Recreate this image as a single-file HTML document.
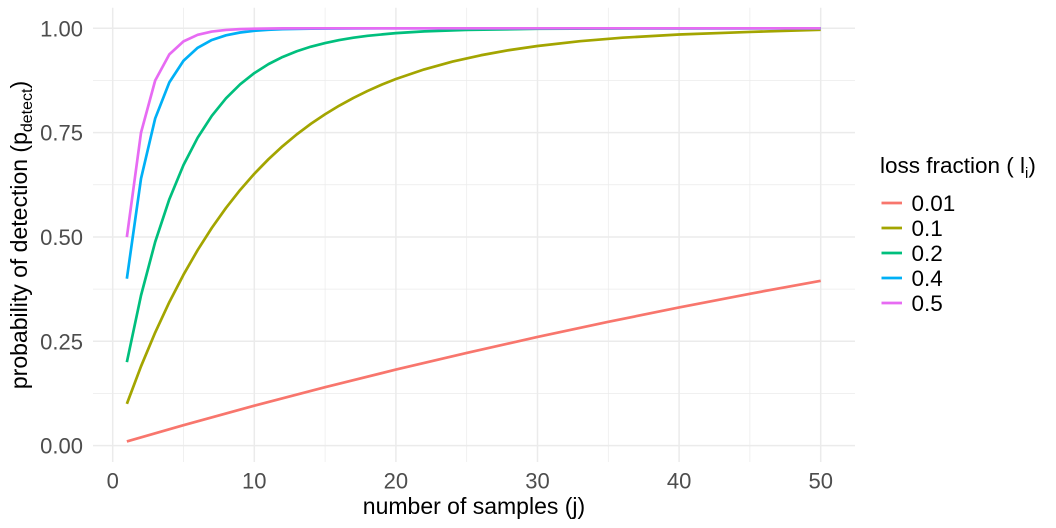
<!DOCTYPE html>
<html><head><meta charset="utf-8"><style>
html,body{margin:0;padding:0;background:#fff;}
svg{display:block;}
text{font-family:"Liberation Sans",Arial,sans-serif;}
</style></head><body>
<svg width="1056" height="528" viewBox="0 0 1056 528" xmlns="http://www.w3.org/2000/svg">
<rect width="1056" height="528" fill="#fff"/>
<!-- minor grid -->
<g stroke="#EBEBEB" stroke-width="0.75" fill="none">
<line x1="93" x2="855" y1="393.44" y2="393.44"/>
<line x1="93" x2="855" y1="289.11" y2="289.11"/>
<line x1="93" x2="855" y1="184.79" y2="184.79"/>
<line x1="93" x2="855" y1="80.46" y2="80.46"/>
<line y1="7.7" y2="462" x1="183.5" x2="183.5"/>
<line y1="7.7" y2="462" x1="325.1" x2="325.1"/>
<line y1="7.7" y2="462" x1="466.7" x2="466.7"/>
<line y1="7.7" y2="462" x1="608.3" x2="608.3"/>
<line y1="7.7" y2="462" x1="749.9" x2="749.9"/>
</g>
<!-- major grid -->
<g stroke="#EBEBEB" stroke-width="1.5" fill="none">
<line x1="93" x2="855" y1="445.6" y2="445.6"/>
<line x1="93" x2="855" y1="341.28" y2="341.28"/>
<line x1="93" x2="855" y1="236.95" y2="236.95"/>
<line x1="93" x2="855" y1="132.63" y2="132.63"/>
<line x1="93" x2="855" y1="28.3" y2="28.3"/>
<line y1="7.7" y2="462" x1="112.7" x2="112.7"/>
<line y1="7.7" y2="462" x1="254.3" x2="254.3"/>
<line y1="7.7" y2="462" x1="395.9" x2="395.9"/>
<line y1="7.7" y2="462" x1="537.5" x2="537.5"/>
<line y1="7.7" y2="462" x1="679.1" x2="679.1"/>
<line y1="7.7" y2="462" x1="820.7" x2="820.7"/>
</g>
<!-- series -->
<g fill="none" stroke-width="2.7" stroke-linejoin="round" stroke-linecap="butt">
<polyline stroke="#F8766D" points="126.86,441.43 183.5,425.15 254.3,405.70 325.1,387.20 395.9,369.61 466.7,352.88 537.5,336.98 608.3,321.85 679.1,307.46 749.9,293.78 820.7,280.77"/>
<polyline stroke="#A3A500" points="126.86,403.87 141.02,366.31 155.18,332.51 169.34,302.09 183.5,274.71 197.66,250.07 211.82,227.89 225.98,207.94 240.14,189.97 254.3,173.80 268.46,159.25 282.62,146.16 296.78,134.38 310.94,123.76 325.1,114.22 339.26,105.63 353.42,97.90 367.58,90.93 381.74,84.67 395.9,79.03 424.22,69.39 452.54,61.59 480.86,55.26 509.18,50.14 537.5,45.99 579.98,41.19 622.46,37.70 679.1,34.47 749.9,31.94 820.7,29.75"/>
<polyline stroke="#00BF7D" points="126.86,362.14 141.02,295.37 155.18,241.96 169.34,199.23 183.5,165.04 197.66,137.69 211.82,115.82 225.98,98.32 240.14,84.30 254.3,73.11 268.46,64.14 282.62,56.98 296.78,51.24 310.94,46.65 325.1,43.03 339.26,40.05 353.42,37.69 367.58,35.81 395.9,33.11 424.22,31.38 466.7,29.88 537.5,28.82 608.3,28.47 679.1,28.36 820.7,28.30"/>
<polyline stroke="#00B0F6" points="126.86,278.68 141.02,178.53 155.18,118.44 169.34,82.39 183.5,60.75 197.66,47.77 211.82,39.98 225.98,35.31 240.14,32.51 254.3,30.82 268.46,29.81 282.62,29.21 310.94,28.63 353.42,28.37 395.9,28.31 820.7,28.30"/>
<polyline stroke="#E76BF3" points="126.86,237.05 141.02,132.63 155.18,80.46 169.34,54.38 183.5,41.34 197.66,34.82 211.82,31.56 225.98,29.93 240.14,29.11 254.3,28.71 282.62,28.40 325.1,28.31 820.7,28.30"/>
</g>
<!-- y tick labels -->
<g font-size="22" fill="#4D4D4D" text-anchor="end">
<text x="83" y="36.3">1.00</text>
<text x="83" y="140.6">0.75</text>
<text x="83" y="245">0.50</text>
<text x="83" y="349.3">0.25</text>
<text x="83" y="453.6">0.00</text>
</g>
<!-- x tick labels -->
<g font-size="22" fill="#4D4D4D" text-anchor="middle">
<text x="112.7" y="488.5">0</text>
<text x="254.3" y="488.5">10</text>
<text x="395.9" y="488.5">20</text>
<text x="537.5" y="488.5">30</text>
<text x="679.1" y="488.5">40</text>
<text x="820.7" y="488.5">50</text>
</g>
<!-- axis titles -->
<text x="474" y="514" font-size="23" text-anchor="middle" fill="#000">number of samples (j)</text>
<text transform="translate(27,235) rotate(-90)" font-size="23" text-anchor="middle" fill="#000">probability of detection (p<tspan font-size="16" dy="5">detect</tspan><tspan dy="-5">)</tspan></text>
<!-- legend -->
<text x="880" y="173" font-size="22.5" fill="#000">loss fraction ( l<tspan font-size="15" dy="5">i</tspan><tspan dy="-5">)</tspan></text>
<g stroke-width="2.7">
<line x1="881.5" x2="902" y1="203" y2="203" stroke="#F8766D"/>
<line x1="881.5" x2="902" y1="228" y2="228" stroke="#A3A500"/>
<line x1="881.5" x2="902" y1="253" y2="253" stroke="#00BF7D"/>
<line x1="881.5" x2="902" y1="278" y2="278" stroke="#00B0F6"/>
<line x1="881.5" x2="902" y1="303" y2="303" stroke="#E76BF3"/>
</g>
<g font-size="22.5" fill="#000">
<text x="911.5" y="211">0.01</text>
<text x="911.5" y="236">0.1</text>
<text x="911.5" y="261">0.2</text>
<text x="911.5" y="286">0.4</text>
<text x="911.5" y="311">0.5</text>
</g>
</svg>
</body></html>
